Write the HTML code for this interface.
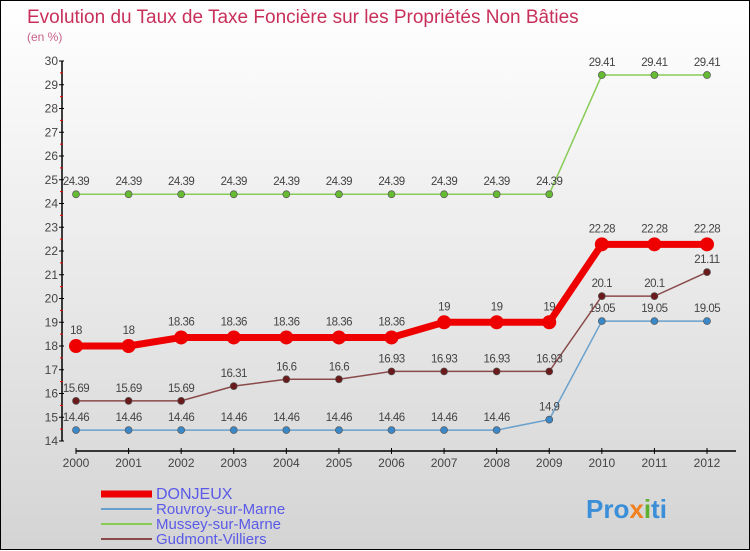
<!DOCTYPE html>
<html><head><meta charset="utf-8"><style>
body{margin:0}
#c{width:748px;height:548px;border:1px solid #000;background:linear-gradient(#fff,#d4d4d4);position:relative;font-family:"Liberation Sans",sans-serif}
svg{position:absolute;left:0;top:0}
</style></head><body>
<div id="c">
<svg id="s" width="750" height="550">
<text x="26" y="22" font-size="19" fill="#c8305a">Evolution du Taux de Taxe Foncière sur les Propriétés Non Bâties</text>
<text x="26" y="40" font-size="12" fill="#c8608a">(en %)</text>
<text x="585" y="517" font-size="26" font-weight="bold" fill="#3a8fd8">Pro<tspan fill="#f08020">x</tspan><tspan fill="#60b030">i</tspan>ti</text>
</svg>
</div>
<script>
const years=[2000,2001,2002,2003,2004,2005,2006,2007,2008,2009,2010,2011,2012];
const donjeux=[18,18,18.36,18.36,18.36,18.36,18.36,19,19,19,22.28,22.28,22.28];
const rouvroy=[14.46,14.46,14.46,14.46,14.46,14.46,14.46,14.46,14.46,14.9,19.05,19.05,19.05];
const mussey=[24.39,24.39,24.39,24.39,24.39,24.39,24.39,24.39,24.39,24.39,29.41,29.41,29.41];
const gudmont=[15.69,15.69,15.69,16.31,16.6,16.6,16.93,16.93,16.93,16.93,20.1,20.1,21.11];
const yTicks=[14,15,16,17,18,19,20,21,22,23,24,25,26,27,28,29,30];
const names=["DONJEUX","Rouvroy-sur-Marne","Mussey-sur-Marne","Gudmont-Villiers"];
const s=document.getElementById('s'),NS="http://www.w3.org/2000/svg";
const X=i=>75+i*(706-75)/(years.length-1);
const Y=v=>440-(v-14)*(380/16);
function mk(t,a,p){const e=document.createElementNS(NS,t);for(const k in a)e.setAttribute(k,a[k]);(p||s).appendChild(e);return e;}
let ax=mk('line',{x1:61,y1:60,x2:61,y2:440,stroke:'#000','stroke-width':1.5});


yTicks.forEach(v=>{mk('line',{x1:58,x2:63,y1:Y(v),y2:Y(v),stroke:'#000'});
 if(v<30)mk('line',{x1:59,x2:62,y1:Y(v+0.5),y2:Y(v+0.5),stroke:'#e00'});
 const t=mk('text',{x:57,y:Y(v)+4,'font-size':12,fill:'#444','text-anchor':'end'});t.textContent=v;
 
 });
let xa=mk('line',{x1:75,y1:450,x2:735,y2:450,stroke:'#000','stroke-width':1.5});


years.forEach((y,i)=>{mk('line',{x1:X(i),x2:X(i),y1:447,y2:453,stroke:'#000'});
 const t=mk('text',{x:X(i),y:466,'font-size':12,fill:'#444','text-anchor':'middle'});t.textContent=y;
 
 });
const series=[[mussey,'#88cc55','#66bb33',1.5,3.5],[rouvroy,'#6aa0cc','#3a88c8',1.5,3.5],[gudmont,'#8a4a4a','#6a1a1a',1.5,3.5],[donjeux,'#ee0000','#ee0000',7,7]];
const snames=['mussey','rouvroy','gudmont','donjeux'];
series.forEach(([d,lc,pc,w,r],k)=>{
 const p=mk('polyline',{points:d.map((v,i)=>X(i)+','+Y(v)).join(' '),fill:'none',stroke:lc,'stroke-width':w});
 
 
 d.forEach((v,i)=>{const c=mk('circle',{cx:X(i),cy:Y(v),r:r,fill:pc,stroke:'#555','stroke-width':k==3?0:0.7});
  
  
  const t=mk('text',{x:X(i),y:Y(v)-(k==3?12:9),'font-size':11.5,fill:'#444','text-anchor':'middle','letter-spacing':'-0.5'});t.textContent=v;
  
  });
});
const lc=['#ee0000','#6aa0cc','#88cc55','#8a4a4a'],lw=[7,2,2,2];
names.forEach((n,i)=>{const y=492+i*15;
 const l=mk('line',{x1:100,x2:151,y1:y+1,y2:y+1,stroke:lc[i],'stroke-width':lw[i]});
 
 
 const t=mk('text',{x:155,y:y+6,'font-size':i==0?16:15,fill:'#5a5ae8'});t.textContent=n;
 
 });
</script>
</body></html>
